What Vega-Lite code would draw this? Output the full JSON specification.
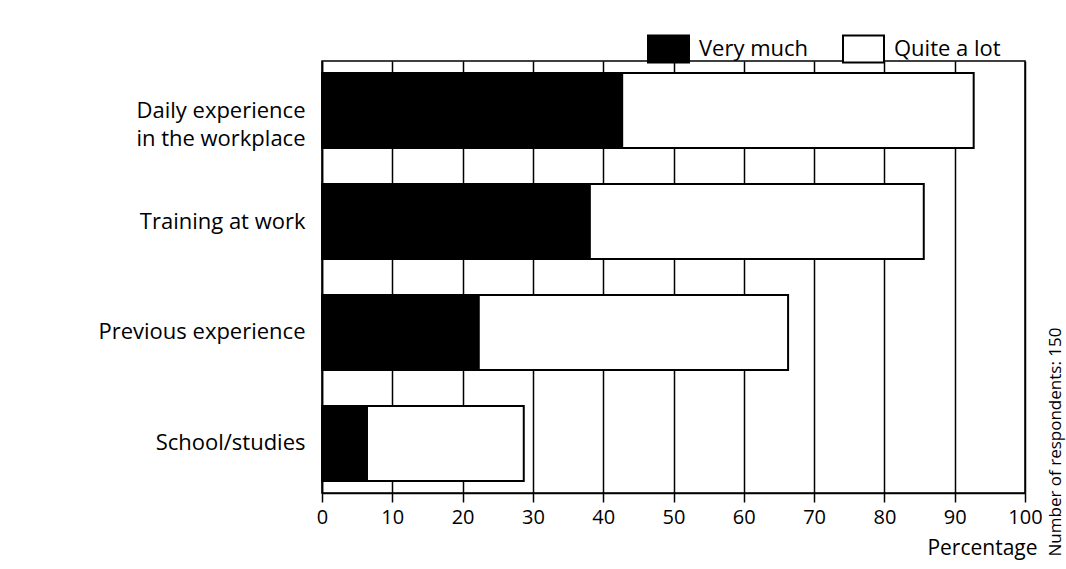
{
  "$schema": "https://vega.github.io/schema/vega-lite/v6.json",
  "width": 703,
  "height": 432,
  "autosize": "none",
  "padding": {"left": 322, "top": 61, "right": 41, "bottom": 76},
  "background": "white",
  "title": {
    "text": "Number of respondents: 150",
    "orient": "right",
    "angle": 270,
    "baseline": "middle",
    "anchor": "middle",
    "frame": "group",
    "offset": -3,
    "dx": -165,
    "fontSize": 17,
    "fontWeight": "normal",
    "font": "Open Sans",
    "color": "black"
  },
  "data": {
    "values": [
      {"category": "Daily experience in the workplace", "level": "Very much", "value": 42.7},
      {"category": "Daily experience in the workplace", "level": "Quite a lot", "value": 50.0},
      {"category": "Training at work", "level": "Very much", "value": 38.1},
      {"category": "Training at work", "level": "Quite a lot", "value": 47.5},
      {"category": "Previous experience", "level": "Very much", "value": 22.3},
      {"category": "Previous experience", "level": "Quite a lot", "value": 44.0},
      {"category": "School/studies", "level": "Very much", "value": 6.4},
      {"category": "School/studies", "level": "Quite a lot", "value": 22.3}
    ]
  },
  "mark": {"type": "bar", "stroke": "black", "strokeWidth": 2},
  "encoding": {
    "y": {
      "field": "category",
      "type": "nominal",
      "sort": null,
      "scale": {"paddingInner": 0.324, "paddingOuter": 0.108},
      "axis": {
        "title": null,
        "ticks": false,
        "domain": true,
        "domainColor": "black",
        "domainWidth": 1.5,
        "labelFont": "Open Sans",
        "labelFontSize": 22,
        "labelColor": "black",
        "labelPadding": 17,
        "labelLineHeight": 28,
        "labelLimit": 400,
        "labelExpr": "datum.value == 'Daily experience in the workplace' ? ['Daily experience', 'in the workplace'] : datum.value"
      }
    },
    "x": {
      "field": "value",
      "type": "quantitative",
      "stack": "zero",
      "scale": {"domain": [0, 100], "nice": false},
      "axis": {
        "values": [0, 10, 20, 30, 40, 50, 60, 70, 80, 90, 100],
        "title": "Percentage",
        "titleFont": "Open Sans",
        "titleFontSize": 21,
        "titleFontWeight": "normal",
        "titleColor": "black",
        "titleAnchor": "end",
        "titleAlign": "right",
        "titleBaseline": "middle",
        "titleX": 715,
        "titleY": 55,
        "grid": true,
        "gridColor": "black",
        "gridWidth": 1.5,
        "gridOpacity": 1,
        "domainColor": "black",
        "domainWidth": 1.5,
        "tickColor": "black",
        "tickWidth": 1.5,
        "tickSize": 9,
        "labelFont": "Open Sans",
        "labelFontSize": 20,
        "labelColor": "black",
        "labelPadding": 5,
        "labelFlush": false
      }
    },
    "color": {
      "field": "level",
      "type": "nominal",
      "scale": {"domain": ["Very much", "Quite a lot"], "range": ["black", "white"]},
      "legend": {
        "title": null,
        "orient": "none",
        "direction": "horizontal",
        "legendX": 325,
        "legendY": -34,
        "symbolType": "M-1,-0.66H1V0.66H-1Z",
        "symbolSize": 1681,
        "symbolStrokeColor": "black",
        "symbolStrokeWidth": 2,
        "labelFont": "Open Sans",
        "labelFontSize": 22,
        "labelColor": "black",
        "labelOffset": 9,
        "columnPadding": 30
      }
    },
    "order": {"field": "level", "sort": "descending"}
  },
  "config": {
    "view": {"stroke": "black", "strokeWidth": 1.5}
  }
}
